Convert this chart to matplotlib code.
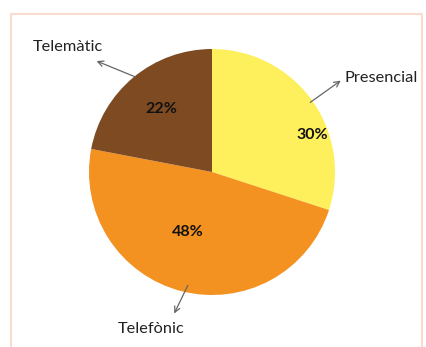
import matplotlib

matplotlib.use("Agg")
import matplotlib.pyplot as plt
from matplotlib.patches import Rectangle

W, H = 427, 347

labels = ["Presencial", "Telefònic", "Telemàtic"]
shares = [30, 48, 22]
colors = ["#FEF05C", "#F39121", "#7E4A22"]

# layout in image pixels (x, y from top)
CENTER = (212, 172)
RADIUS = 123
pct_pos = [(312, 135), (188, 232), (161, 109)]
label_pos = [(345, 78, "left"), (151, 329, "center"), (33, 47, "left")]
arrow_from = [(308, 104), (189, 283), (138, 78)]
arrow_to = [(343, 79), (173, 316), (94, 60)]


def up(p):
    return (p[0], H - p[1])


plt.rcParams["font.family"] = ["Lato", "DejaVu Sans"]

fig = plt.figure(figsize=(W / 100, H / 100), dpi=100)
ax = fig.add_axes([0, 0, 1, 1])

# faint frame around the chart
ax.add_patch(Rectangle((11, -5), 411, H - 14 + 5, fill=False,
                       edgecolor="#F9DCCF", lw=1.5))

ax.pie(shares, colors=colors, startangle=90, counterclock=False,
       center=up(CENTER), radius=RADIUS, frame=True,
       wedgeprops=dict(linewidth=0))
ax.set_xlim(0, W)
ax.set_ylim(0, H)
ax.set_aspect("equal")
ax.axis("off")

for s, p in zip(shares, pct_pos):
    ax.text(*up(p), f"{s}%", ha="center", va="center",
            fontsize=11.5, fontweight="bold", color="#111111")

for lab, (x, y, ha), a, b in zip(labels, label_pos, arrow_from, arrow_to):
    ax.text(x, H - y, lab, ha=ha, va="center", fontsize=11.8, color="#222222")
    ax.annotate("", xy=up(b), xytext=up(a),
                arrowprops=dict(arrowstyle="->", color="#666666", lw=0.9))

fig.savefig("out.png", dpi=100)
